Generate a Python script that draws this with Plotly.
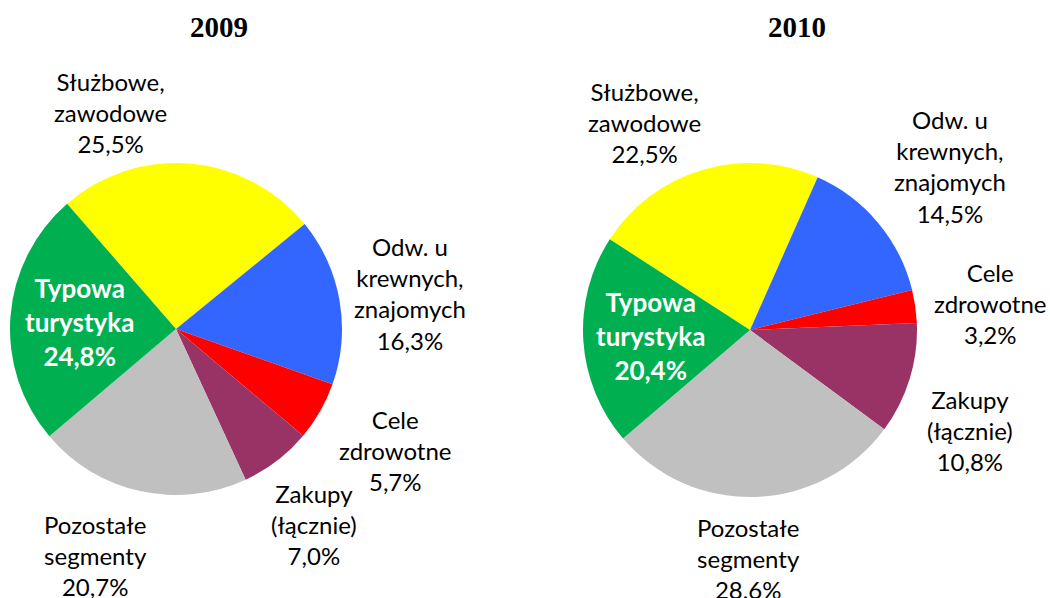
import plotly.graph_objects as go

# Travel purpose shares (%) for two years
categories = [
    "Służbowe,<br>zawodowe",
    "Odw. u<br>krewnych,<br>znajomych",
    "Cele<br>zdrowotne",
    "Zakupy<br>(łącznie)",
    "Pozostałe<br>segmenty",
    "Typowa<br>turystyka",
]
values_2009 = [25.5, 16.3, 5.7, 7.0, 20.7, 24.8]
values_2010 = [22.5, 14.5, 3.2, 10.8, 28.6, 20.4]
years = ["2009", "2010"]

colors = ["#FFFF00", "#3366FF", "#FF0000", "#993366", "#C0C0C0", "#00B050"]

W, H = 1050, 598

# Layout of each pie: (centre x, centre y, radius) in pixels, start angle
pie_layout = {
    "2009": dict(cx=176, cy=329, r=166, rotation=-41.0, title_x=219),
    "2010": dict(cx=750, cy=330, r=167, rotation=-57.1, title_x=797),
}

# Label block centres in pixels, in category order
label_pos = {
    "2009": [(110, 113), (410, 293), (395, 450), (314, 524), (95, 555), (79, 322)],
    "2010": [(644, 123), (950, 166), (990, 303), (970, 430), (748, 558), (650, 336)],
}

fig = go.Figure()
annotations = []

for year, vals in zip(years, [values_2009, values_2010]):
    p = pie_layout[year]
    fig.add_trace(go.Pie(
        labels=[c.replace("<br>", " ") for c in categories],
        values=vals,
        sort=False,
        direction="clockwise",
        rotation=p["rotation"],
        marker=dict(colors=colors, line=dict(width=0)),
        textinfo="none",
        hoverinfo="label+percent",
        showlegend=False,
        domain=dict(
            x=[(p["cx"] - p["r"]) / W, (p["cx"] + p["r"]) / W],
            y=[1 - (p["cy"] + p["r"]) / H, 1 - (p["cy"] - p["r"]) / H],
        ),
    ))
    annotations.append(dict(
        text=f"<b>{year}</b>", x=p["title_x"] / W, y=1 - 27 / H,
        xref="paper", yref="paper", xanchor="center", yanchor="middle",
        showarrow=False,
        font=dict(family="Liberation Serif", size=29, color="#000000"),
    ))
    for i, (cat, v) in enumerate(zip(categories, vals)):
        lx, ly = label_pos[year][i]
        pct = f"{v:.1f}".replace(".", ",") + "%"
        txt = f"{cat}<br>{pct}"
        is_inside = i == len(categories) - 1
        if is_inside:
            txt = f"<b>{txt}</b>"
        annotations.append(dict(
            text=txt, x=lx / W, y=1 - ly / H,
            xref="paper", yref="paper", xanchor="center", yanchor="middle",
            align="center", showarrow=False,
            font=dict(family="Lato", size=26 if is_inside else 24,
                      color="#FFFFFF" if is_inside else "#000000"),
        ))

fig.update_layout(
    width=W, height=H,
    margin=dict(l=0, r=0, t=0, b=0),
    paper_bgcolor="#FFFFFF",
    plot_bgcolor="#FFFFFF",
    annotations=annotations,
)

fig.write_html("out.html")
